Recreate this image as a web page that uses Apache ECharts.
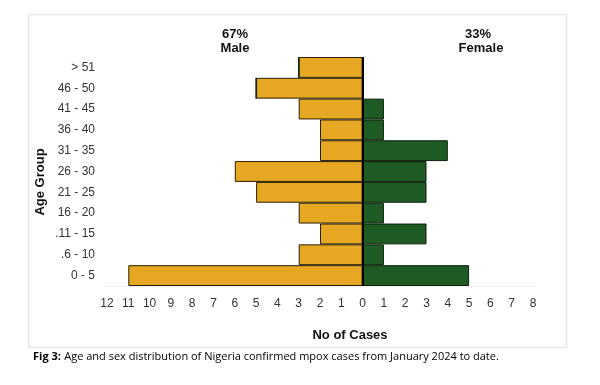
<!DOCTYPE html>
<html><head><meta charset="utf-8">
<script src="https://cdn.jsdelivr.net/npm/echarts@6/dist/echarts.min.js"></script>
<style>html,body{margin:0;padding:0;background:#fff}#c{width:600px;height:385px}</style>
</head><body><div id="c"></div>
<script>
const ageGroups = ['0 - 5', '.6 - 10', '.11 - 15', '16 - 20', '21 - 25', '26 - 30', '31 - 35', '36 - 40', '41 - 45', '46 - 50', '> 51'];
const maleCases = [11, 3, 2, 3, 5, 6, 2, 2, 3, 5, 3];
const femaleCases = [5, 1, 3, 1, 3, 3, 4, 1, 1, 0, 0];
const xTicks = [-12, 8, 1];

const chart = echarts.init(document.getElementById('c'), null, {renderer: 'canvas'});
const font = 'Liberation Sans, Arial, sans-serif';
const boldFont = 'bold 13px Liberation Sans, Arial, sans-serif';
function label(text, x, y) {
  return {type: 'text', x: x, y: y, silent: true,
    style: {text: text, align: 'center', verticalAlign: 'middle', font: boldFont, fill: '#111'}};
}
chart.setOption({
  animation: false,
  backgroundColor: '#fff',
  grid: {left: 107, right: 67, top: 57, bottom: 99, containLabel: false},
  xAxis: {
    type: 'value', min: xTicks[0], max: xTicks[1], interval: xTicks[2],
    axisLine: {show: true, lineStyle: {color: '#eeeeee', width: 1}},
    axisTick: {show: false}, splitLine: {show: false},
    axisLabel: {formatter: v => Math.abs(v), color: '#333', fontSize: 12, fontFamily: font, margin: 12}
  },
  yAxis: {
    type: 'category', data: ageGroups,
    axisLine: {show: false}, axisTick: {show: false},
    axisLabel: {color: '#333', fontSize: 12, fontFamily: font, margin: 12}
  },
  series: [
    {
      name: 'Male', type: 'bar', stack: 'a', barCategoryGap: '0%',
      data: maleCases.map(v => -v),
      itemStyle: {color: '#E6A823', borderColor: '#2a1f05', borderWidth: 1}
    },
    {
      name: 'Female', type: 'bar', stack: 'a', barCategoryGap: '0%',
      data: femaleCases,
      itemStyle: {color: '#1E5B23', borderColor: '#0c200d', borderWidth: 1},
      markLine: {silent: true, symbol: 'none', label: {show: false},
        lineStyle: {color: '#000', width: 2, type: 'solid'}, data: [{xAxis: 0}]}
    }
  ],
  graphic: [
    {type: 'rect', shape: {x: 28.5, y: 14.5, width: 538, height: 333}, silent: true, z: -1,
      style: {fill: 'none', stroke: '#e6e6e6', lineWidth: 1.5}},
    label('67%', 235, 34),
    label('Male', 235, 48.5),
    label('33%', 478, 34),
    label('Female', 481, 48.5),
    {type: 'text', x: 40, y: 182, rotation: Math.PI / 2, silent: true,
      style: {text: 'Age Group', align: 'center', verticalAlign: 'middle', font: boldFont, fill: '#111'}},
    label('No of Cases', 350, 335),
    {type: 'text', x: 33, y: 357, silent: true,
      style: {text: '{b|Fig 3:} {n|Age and sex distribution of Nigeria confirmed mpox cases from January 2024 to date.}',
        verticalAlign: 'middle',
        rich: {
          b: {fontWeight: 'bold', fontSize: 11, fontFamily: 'Open Sans, sans-serif', fill: '#000'},
          n: {fontWeight: 'normal', fontSize: 11, fontFamily: 'Open Sans, sans-serif', fill: '#000'}
        }}}
  ]
});
</script></body></html>
